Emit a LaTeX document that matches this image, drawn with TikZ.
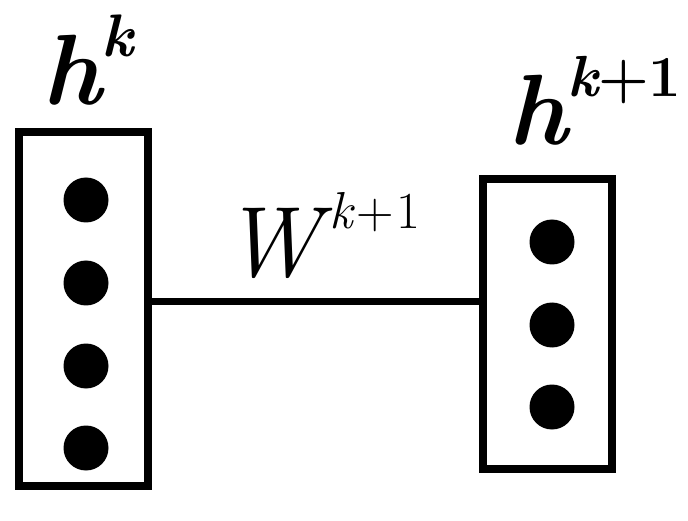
\documentclass[tikz,border=0pt]{standalone}
\usepackage{tikz}
\usetikzlibrary{positioning}
\newcommand{\bigtxt}{\fontsize{100}{100}\selectfont}
\newcommand{\suptxt}[2][60]{\raisebox{48pt}{\fontsize{#1}{#1}\selectfont #2}}
\tikzset{
  layer/.style={draw,line width=8pt,inner sep=0pt,minimum width=129pt},
  unit/.style={circle,fill=black,inner sep=0pt,minimum size=45pt},
  lbl/.style={anchor=base west,inner sep=0pt}
}
\begin{document}
\begin{tikzpicture}[x=1pt,y=-1pt]
\useasboundingbox (0,0) rectangle (688,521);
\node[layer,minimum height=354pt] (lbox) at (83.5,309) {};
\node[layer,minimum height=290pt] (rbox) at (547.5,324) {};
\foreach \y [count=\i] in {200,283,366,448} \node[unit] (l\i) at (86,\y) {};
\foreach \y [count=\i] in {242,325,407} \node[unit] (r\i) at (552,\y) {};
\coordinate (wy) at (0,302);
\draw[line width=7pt] (lbox.east |- wy) -- (rbox.west |- wy);
\node[lbl] (hk) at (42,105) {\bigtxt\bfseries\itshape h\suptxt{k}};
\node[lbl] (hk1) at (508,145) {\bigtxt\bfseries\itshape h\suptxt[58]{k{\upshape+1}}};
\node[lbl] (wk1) at (222,277) {\bigtxt\itshape W\kern10pt\suptxt[52]{k{\upshape\kern3pt+\kern3pt1}}};
\end{tikzpicture}
\end{document}
